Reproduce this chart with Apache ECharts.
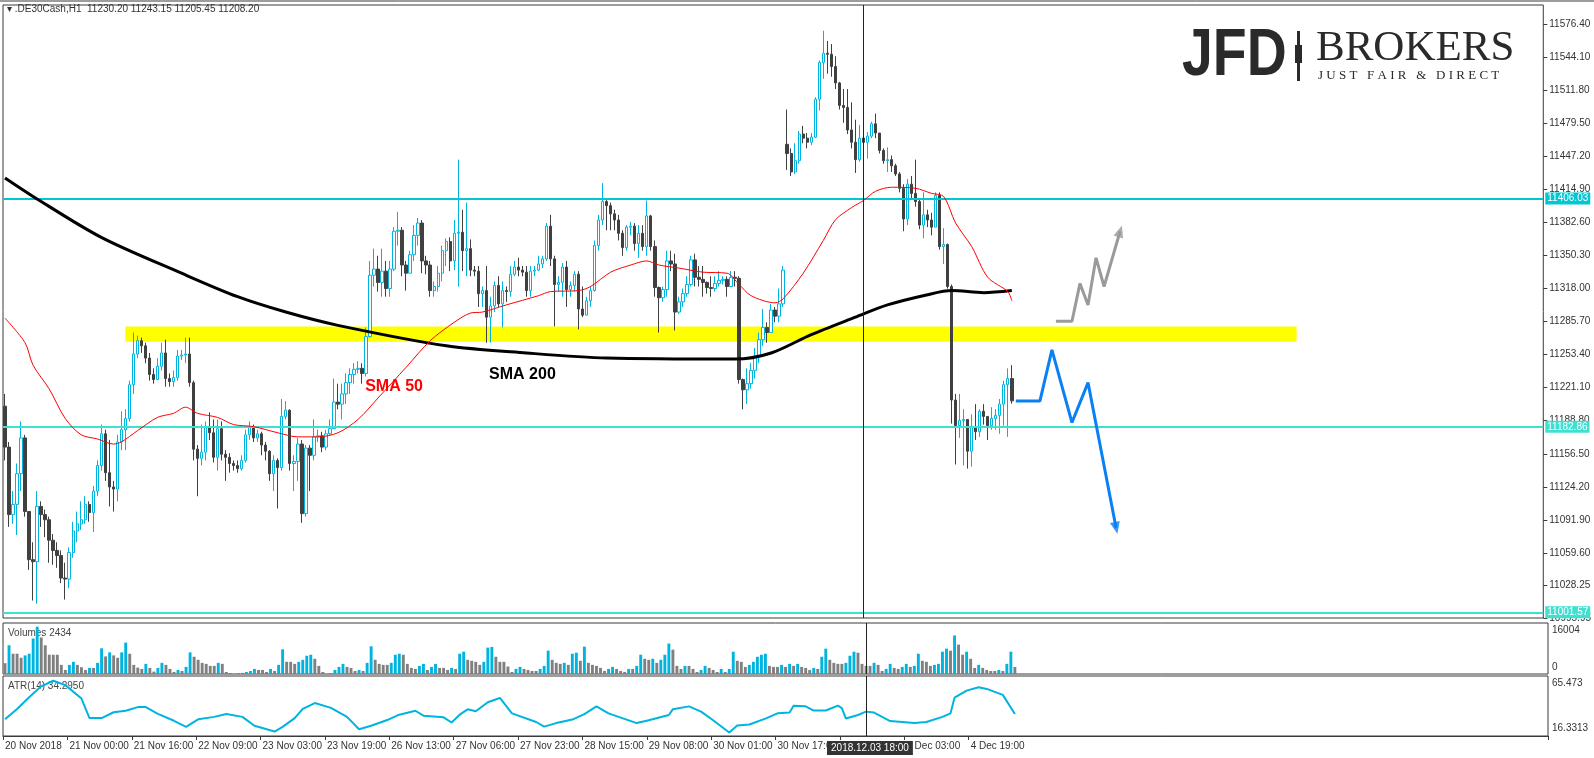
<!DOCTYPE html>
<html>
<head>
<meta charset="utf-8">
<script src="https://cdn.jsdelivr.net/npm/echarts@6/dist/echarts.min.js"></script>
<style>
  html, body { margin: 0; padding: 0; background: #fff; }
  #chart { width: 1594px; height: 758px; }
</style>
</head>
<body>
<div id="chart"></div>
<script>
// .DE30Cash H1, 20 Nov - 4 Dec 2018
const closes = [
  11163,11097,11107,11137,11172,11100,11053,11051,11105,11097,
  11092,11072,11062,11057,11035,11034,11060,11081,11088,11092,
  11107,11099,11120,11145,11176,11138,11124,11122,11168,11180,
  11191,11224,11254,11267,11262,11250,11234,11229,11242,11255,
  11230,11227,11231,11252,11253,11254,11226,11161,11152,11158,
  11182,11177,11153,11181,11156,11153,11147,11145,11142,11150,
  11175,11182,11172,11176,11165,11159,11137,11150,11143,11193,
  11199,11147,11149,11166,11098,11162,11155,11173,11174,11163,
  11176,11181,11207,11205,11215,11226,11234,11239,11240,11235,
  11271,11331,11337,11324,11335,11318,11337,11374,11375,11341,
  11333,11351,11370,11382,11345,11341,11316,11320,11333,11355,
  11364,11345,11372,11373,11355,11357,11336,11335,11313,11316,
  11290,11301,11321,11303,11316,11315,11332,11339,11336,11334,
  11316,11335,11336,11342,11347,11379,11347,11322,11324,11339,
  11317,11321,11332,11298,11292,11306,11316,11360,11385,11403,
  11399,11391,11385,11372,11358,11378,11379,11362,11372,11359,
  11389,11359,11319,11309,11317,11345,11342,11295,11305,11313,
  11322,11346,11329,11327,11324,11319,11318,11323,11326,11327,
  11320,11329,11328,11229,11219,11225,11238,11252,11268,11280,
  11275,11297,11291,11303,11336,11450,11432,11443,11469,11465,
  11461,11466,11503,11539,11548,11547,11535,11519,11497,11495,
  11473,11461,11444,11465,11461,11467,11479,11470,11453,11443,
  11444,11438,11430,11416,11386,11420,11411,11403,11380,11390,
  11385,11378,11409,11359,11361,11320,11209,11184,11189,11190,
  11159,11182,11178,11198,11193,11184,11191,11194,11205,11224,
  11230,11208.20
];
const highs = [
  11215,11168,11120,11147,11188,11175,11100,11070,11120,11110,
  11102,11095,11078,11070,11062,11050,11065,11090,11100,11110,
  11115,11110,11125,11150,11185,11180,11170,11130,11175,11198,
  11200,11228,11275,11272,11270,11265,11255,11240,11250,11265,
  11268,11235,11238,11258,11258,11270,11270,11228,11165,11185,
  11188,11197,11190,11190,11188,11160,11157,11150,11150,11155,
  11180,11188,11185,11180,11178,11168,11160,11155,11152,11210,
  11208,11200,11155,11172,11170,11165,11165,11190,11180,11178,
  11180,11190,11230,11225,11225,11235,11240,11245,11247,11245,
  11280,11345,11357,11350,11357,11345,11345,11378,11393,11378,
  11345,11355,11380,11387,11385,11350,11345,11325,11340,11360,
  11367,11368,11385,11444,11395,11402,11366,11340,11340,11320,
  11340,11310,11325,11330,11325,11320,11340,11345,11348,11340,
  11340,11340,11340,11350,11350,11382,11390,11350,11330,11343,
  11345,11325,11335,11335,11320,11310,11320,11365,11390,11421,
  11405,11402,11395,11390,11375,11380,11383,11382,11380,11380,
  11404,11390,11365,11320,11320,11355,11355,11352,11310,11318,
  11330,11350,11352,11340,11340,11325,11330,11330,11335,11330,
  11330,11335,11335,11330,11230,11240,11245,11260,11275,11298,
  11285,11303,11300,11318,11340,11493,11455,11460,11472,11477,
  11470,11470,11505,11541,11570,11560,11557,11545,11520,11513,
  11513,11500,11483,11478,11483,11471,11481,11489,11470,11455,
  11456,11448,11440,11432,11420,11425,11428,11444,11405,11412,
  11395,11392,11412,11412,11377,11362,11322,11215,11215,11200,
  11190,11195,11205,11200,11205,11190,11202,11200,11210,11228,
  11240,11243.15
];
const lows = [
  11150,11085,11088,11077,11120,11095,11043,11013,11010,11085,
  11075,11050,11048,11045,11030,11014,11025,11055,11070,11082,
  11088,11090,11080,11115,11140,11130,11105,11100,11110,11160,
  11160,11188,11215,11250,11255,11245,11228,11225,11230,11238,
  11222,11222,11222,11228,11248,11245,11222,11150,11115,11145,
  11150,11170,11148,11140,11150,11130,11138,11140,11138,11140,
  11148,11170,11168,11168,11155,11150,11130,11120,11103,11140,
  11190,11140,11120,11130,11089,11095,11120,11150,11168,11158,
  11160,11175,11190,11200,11190,11205,11215,11225,11235,11225,
  11232,11270,11320,11315,11310,11310,11310,11335,11360,11330,
  11316,11334,11345,11360,11333,11332,11310,11310,11315,11325,
  11340,11335,11336,11320,11335,11330,11330,11330,11300,11300,
  11265,11265,11295,11300,11280,11305,11310,11330,11330,11330,
  11310,11310,11330,11335,11338,11345,11340,11281,11315,11310,
  11300,11310,11315,11278,11290,11292,11300,11315,11355,11380,
  11375,11375,11375,11365,11350,11355,11370,11355,11348,11355,
  11350,11355,11310,11275,11305,11310,11335,11277,11293,11300,
  11310,11320,11320,11320,11310,11313,11310,11315,11320,11322,
  11310,11320,11320,11225,11200,11205,11220,11230,11245,11262,
  11265,11280,11285,11285,11300,11434,11428,11430,11440,11460,
  11455,11458,11465,11492,11523,11528,11525,11513,11493,11480,
  11469,11455,11431,11442,11455,11445,11465,11465,11450,11440,
  11432,11432,11428,11412,11374,11380,11405,11398,11376,11367,
  11378,11370,11378,11356,11342,11318,11186,11146,11172,11145,
  11142,11144,11170,11173,11185,11170,11180,11180,11176,11184,
  11173,11205.45
];
// aberturas diferentes do fechamento anterior (primeira barra e gap de segunda-feira)
const gapOpens = { 0: 11203, 195: 11459 };

// Volumes em unidades da altura do painel (1 unidade ~ 114 ticks)
const volumeUnits = [
  32,85,60,60,48,55,60,105,140,108, 85,57,57,57,27,12,27,36,27,20,
  12,18,18,33,76,52,64,55,48,64, 93,60,27,19,15,30,18,7,18,33,
  27,15,6,12,9,21,64,51,42,33, 30,24,24,33,30,6,3,0,3,3,
  6,9,15,12,12,6,15,9,27,73, 36,36,30,36,42,54,57,45,24,6,
  0,3,12,21,30,21,18,9,12,9, 33,82,42,30,27,27,33,57,60,57,
  30,18,15,24,30,12,21,30,18,18, 12,18,15,60,66,42,39,36,27,36,
  78,80,51,36,36,
  22,6,15,21,15,12,9,9,15,24, 69,42,33,30,33,27,60,63,39,81,
  33,27,24,18,9,15,21,15,9,6, 15,15,24,57,45,42,45,33,42,57,
  90,72,24,15,24,24,15,6,12,24, 18,12,6,15,6,15,66,39,36,21,
  27,36,51,57,60,24,21,21,27,21, 30,24,30,21,18,12,18,15,51,75,
  42,33,30,30,33,54,66,63,30,24, 24,33,27,9,15,30,18,15,21,30,
  21,24,60,39,36,24,27,30,66,75, 69,114,87,57,66,45,18,27,18,12,
  9,9,12,9,30,66,21
];
const volumeScale = 114;

// Médias e ATR: pontos [barra, valor]
const sma200 = [[0,11426],[7,11408],[24,11368],[44,11333],[58,11310],[70,11295],[83,11282],
  [110,11262],[130,11255],[150,11250],[182,11249],[191,11255],[201,11273],[212,11290],
  [220,11302],[230,11312],[236,11316],[244,11314],[251,11316]];
const sma50 = [[0,11289],[5,11265],[7,11243],[11,11220],[15,11191],[19,11175],[23,11171],[27,11166],
  [29,11168],[33,11179],[38,11192],[42,11196],[45,11202],[48,11196],[53,11192],[57,11185],[62,11183],
  [68,11177],[73,11173],[78,11173],[83,11177],[88,11190],[93,11211],[100,11241],[106,11267],[112,11285],
  [116,11294],[119,11295],[125,11302],[133,11311],[136,11315],[143,11316],[146,11320],[151,11334],
  [156,11341],[160,11345],[163,11341],[168,11338],[174,11334],[180,11333],[183,11322],[186,11311],
  [192,11304],[194,11308],[199,11333],[204,11365],[207,11385],[211,11397],[214,11404],[217,11413],
  [221,11417],[227,11416],[231,11411],[234,11408],[237,11382],[241,11359],[245,11329],[250,11315],[251,11306]];
const atr = [[0,30],[3,38.5],[6,48],[9,57],[12,61.6],[15,58],[19,47],[21,31],[24,31],[27,35.8],[30,37],
  [33,40],[35,40],[38,34.4],[42,28.8],[45,23.8],[48,30],[52,32],[55,34.4],[59,32],[62,24.7],[67,20],
  [69,23.8],[72,31],[74,38.5],[77,43.3],[81,39.4],[85,32],[88,21.9],[91,24.7],[95,29.4],[98,33.8],
  [102,37],[104,33],[109,31.6],[111,27.4],[113,33.8],[115,38.2],[117,36.6],[120,44],[123,47.5],
  [126,34.9],[132,27.8],[134,24],[137,26.9],[141,29.8],[144,34.3],[147,40.6],[150,34.9],[157,26.9],
  [160,29.2],[165,33.5],[166,38.3],[170,40.6],[173,36.3],[176,29.2],[180,19.2],[182,24.9],[185,25.8],
  [189,30.6],[192,34.9],[195,35.5],[196,41.2],[199,40.6],[201,37.2],[204,37.2],[207,41.2],[208,39.2],
  [209,30.6],[212,33.5],[214,36.3],[216,35.5],[220,28.6],[226,26.9],[229,27.8],[233,32],[235,34.9],
  [236,47.7],[239,53.5],[242,56.3],[244,54.9],[248,50],[251,34.3]];

// Níveis e anotações
const levels = [11406.03, 11182.86, 11001.57];
const supplyZone = [30, 322, 11266, 11281];
const blueArrow = [[252,11208],[258,11208],[261,11258],[266,11187],[270,11226],[277,11084]];
const grayArrow = [[262,11286],[266,11286],[268,11323],[270,11302],[272,11348],[274,11320],[278,11374]];
const crossBar = 214;

const priceTicks = [10995.95,11028.25,11059.60,11091.90,11124.20,11156.50,11188.80,11221.10,11253.40,
  11285.70,11318.00,11350.30,11382.60,11414.90,11447.20,11479.50,11511.80,11544.10,11576.40];
const xLabels = ['20 Nov 2018','21 Nov 00:00','21 Nov 16:00','22 Nov 09:00','23 Nov 03:00','23 Nov 19:00',
  '26 Nov 13:00','27 Nov 06:00','27 Nov 23:00','28 Nov 15:00','29 Nov 08:00','30 Nov 01:00',
  '30 Nov 17:00','3 Dec 11:00','4 Dec 03:00','4 Dec 19:00'];
const totalSlots = 384;

const UP = '#00b4e0', DOWN = '#404040', FONT = 'Liberation Sans';

const slots = [];
for (let i = 0; i < totalSlots; i++) slots.push(String(i));

const candles = closes.map((c, i) => {
  const o = gapOpens[i] !== undefined ? gapOpens[i] : closes[i - 1];
  return [o, c, Math.min(lows[i], o, c), Math.max(highs[i], o, c)];
});
const volumes = volumeUnits.map((u, i) => ({
  value: u * volumeScale,
  itemStyle: { color: i > 0 && u > volumeUnits[i - 1] ? UP : '#808080' }
}));

const tagLabel = (bg, txt) => ({
  show: true, position: 'end', distance: 2, formatter: txt,
  backgroundColor: bg, color: '#fff', padding: [1, 2], fontSize: 10, fontFamily: FONT
});

const chartDom = document.getElementById('chart');
const myChart = echarts.init(chartDom);

const grids = [
  { left: 3, right: 46, top: 5, height: 613 },
  { left: 3, right: 46, top: 623, height: 51 },
  { left: 3, right: 46, top: 676, height: 60 }
].map(g => Object.assign(g, { show: true, borderColor: '#3a3a3a', borderWidth: 1, backgroundColor: '#fff' }));

const lastTick = (xLabels.length - 1) * 16;
const xAxes = [0, 1, 2].map(gi => ({
  type: 'category', gridIndex: gi, data: slots, boundaryGap: true,
  axisLine: { show: gi === 2, lineStyle: { color: '#3a3a3a' } },
  axisTick: { show: gi === 2, interval: idx => idx % 16 === 0 && idx <= lastTick, length: 4, lineStyle: { color: '#3a3a3a' } },
  axisLabel: {
    show: gi === 2, interval: idx => idx % 16 === 0 && idx <= lastTick, align: 'left', margin: 5,
    color: '#333', fontSize: 10, fontFamily: FONT,
    formatter: (v, idx) => xLabels[Math.round(idx / 16)] || ''
  },
  splitLine: { show: false }
}));

// linha vertical do cursor, desenhada em cada painel
const crossSeries = [0, 1, 2].map(gi => ({
  name: 'cursor' + gi, type: 'custom', xAxisIndex: gi, yAxisIndex: gi, z: 8, silent: true,
  data: [[crossBar]],
  renderItem: (params, api) => {
    const x = Math.round(api.coord([api.value(0), 0])[0]) + 0.5;
    const cs = params.coordSys;
    return { type: 'line', shape: { x1: x, y1: cs.y, x2: x, y2: cs.y + cs.height },
      style: { stroke: '#222', lineWidth: 1 } };
  }
}));

const option = {
  animation: false,
  grid: grids,
  xAxis: xAxes,
  yAxis: [
    {
      type: 'value', gridIndex: 0, position: 'right', min: 10995.95, max: 11595.15, scale: true,
      axisLine: { show: false },
      axisTick: { show: true, length: 4, customValues: priceTicks, lineStyle: { color: '#3a3a3a' } },
      axisLabel: { customValues: priceTicks, margin: 6, color: '#333', fontSize: 10, fontFamily: FONT,
        formatter: v => v.toFixed(2) },
      splitLine: { show: false }
    },
    { type: 'value', gridIndex: 1, min: 0, max: 17200, show: false },
    { type: 'value', gridIndex: 2, min: 16.3313, max: 65.473, show: false }
  ],
  series: [
    {
      name: 'zona', type: 'custom', xAxisIndex: 0, yAxisIndex: 0, z: 1, silent: true,
      data: [supplyZone],
      renderItem: (params, api) => {
        const p1 = api.coord([api.value(0), api.value(3)]);
        const p2 = api.coord([api.value(1), api.value(2)]);
        return { type: 'rect', shape: { x: p1[0], y: p1[1], width: p2[0] - p1[0], height: p2[1] - p1[1] },
          style: { fill: '#ffff00' } };
      }
    },
    {
      name: 'DE30', type: 'candlestick', xAxisIndex: 0, yAxisIndex: 0, data: candles,
      barWidth: '72%', z: 3,
      itemStyle: { color: '#ffffff', borderColor: UP, color0: DOWN, borderColor0: DOWN, borderWidth: 1 },
      markLine: {
        silent: true, symbol: 'none',
        data: [
          { yAxis: levels[0], lineStyle: { color: '#00c8d2', width: 2, type: 'solid' }, label: tagLabel('#00c8d2', levels[0].toFixed(2)) },
          { yAxis: levels[1], lineStyle: { color: '#40e0d0', width: 2, type: 'solid' }, label: tagLabel('#40e0d0', levels[1].toFixed(2)) },
          { yAxis: levels[2], lineStyle: { color: '#40e0d0', width: 2, type: 'solid' }, label: tagLabel('#40e0d0', levels[2].toFixed(2)) },
          { yAxis: closes[closes.length - 1], lineStyle: { opacity: 0 }, label: tagLabel('#333', '11208.20') },
          { yAxis: 11595.15, lineStyle: { opacity: 0 }, label: tagLabel('#333', '11595.15') }
        ]
      },
      markPoint: {
        silent: true, symbol: 'circle', symbolSize: 0,
        data: [
          { coord: ['97', 11222], label: { show: true, formatter: 'SMA 50', color: '#ff0000', fontSize: 16, fontWeight: 'bold', fontFamily: 'Liberation Sans' } },
          { coord: ['129', 11234], label: { show: true, formatter: 'SMA 200', color: '#000', fontSize: 16, fontWeight: 'bold', fontFamily: 'Liberation Sans' } }
        ]
      }
    },
    { name: 'SMA200', type: 'line', xAxisIndex: 0, yAxisIndex: 0, data: sma200, smooth: 0.3, showSymbol: false, z: 5,
      lineStyle: { color: '#000', width: 3 } },
    { name: 'SMA50', type: 'line', xAxisIndex: 0, yAxisIndex: 0, data: sma50, smooth: 0.3, showSymbol: false, z: 5,
      lineStyle: { color: '#ff0000', width: 1 } },
    { name: 'alta', type: 'line', xAxisIndex: 0, yAxisIndex: 0, data: grayArrow, showSymbol: false, z: 6,
      lineStyle: { color: '#9a9a9a', width: 3 } },
    { name: 'queda', type: 'line', xAxisIndex: 0, yAxisIndex: 0, data: blueArrow, showSymbol: false, z: 6,
      lineStyle: { color: '#0a80f5', width: 3 } },
    { name: 'pontas', type: 'scatter', xAxisIndex: 0, yAxisIndex: 0, z: 7, symbol: 'triangle', symbolSize: [10, 12],
      data: [
        { value: grayArrow[grayArrow.length - 1], symbolRotate: -18, itemStyle: { color: '#9a9a9a' } },
        { value: blueArrow[blueArrow.length - 1], symbolRotate: 192, itemStyle: { color: '#0a80f5' } }
      ] },
    { name: 'Volumes', type: 'bar', xAxisIndex: 1, yAxisIndex: 1, data: volumes, barWidth: '72%' },
    { name: 'ATR', type: 'line', xAxisIndex: 2, yAxisIndex: 2, data: atr, showSymbol: false,
      lineStyle: { color: UP, width: 2 } }
  ].concat(crossSeries),
  graphic: [
    { type: 'line', shape: { x1: 0, y1: 1, x2: 1594, y2: 1 }, style: { stroke: '#3a3a3a', lineWidth: 1 } },
    { type: 'text', left: 7, top: 4, style: { text: '\u25BE .DE30Cash,H1  11230.20 11243.15 11205.45 11208.20', fill: '#333', font: '10px Liberation Sans' } },
    { type: 'text', left: 8, top: 628, style: { text: 'Volumes 2434', fill: '#444', font: '10px Liberation Sans' } },
    { type: 'text', left: 8, top: 681, style: { text: 'ATR(14) 34.2950', fill: '#444', font: '10px Liberation Sans' } },
    { type: 'text', left: 1552, top: 625, style: { text: '16004', fill: '#333', font: '10px Liberation Sans' } },
    { type: 'text', left: 1552, top: 662, style: { text: '0', fill: '#333', font: '10px Liberation Sans' } },
    { type: 'text', left: 1552, top: 678, style: { text: '65.473', fill: '#333', font: '10px Liberation Sans' } },
    { type: 'text', left: 1552, top: 723, style: { text: '16.3313', fill: '#333', font: '10px Liberation Sans' } },
    // logotipo
    { type: 'text', x: 1182, y: 24, scaleX: 0.84, style: { text: 'JFD', fill: '#2a2a2a', font: 'bold 66px Liberation Sans' } },
    { type: 'rect', shape: { x: 1297, y: 31, width: 3, height: 50 }, style: { fill: '#2a2a2a' } },
    { type: 'rect', shape: { x: 1295, y: 45, width: 7, height: 18 }, style: { fill: '#2a2a2a' } },
    { type: 'text', left: 1316, top: 27, style: { text: 'BROKERS', fill: '#2a2a2a', font: '43px Liberation Serif' } },
    { type: 'text', left: 1318, top: 69, style: { text: 'J U S T   F A I R   &   D I R E C T', fill: '#2a2a2a', font: '13px Liberation Serif' } }
  ]
};

myChart.setOption(option);

// rótulo da data na linha vertical
const cx = myChart.convertToPixel({ xAxisIndex: 2 }, String(crossBar));
myChart.setOption({
  graphic: option.graphic.concat([
    { type: 'text', x: cx - 39, y: 741, z: 100,
      style: { text: '2018.12.03 18:00', fill: '#fff', font: '10px Liberation Sans', backgroundColor: '#333', padding: [2, 4] } }
  ])
});
</script>
</body>
</html>
